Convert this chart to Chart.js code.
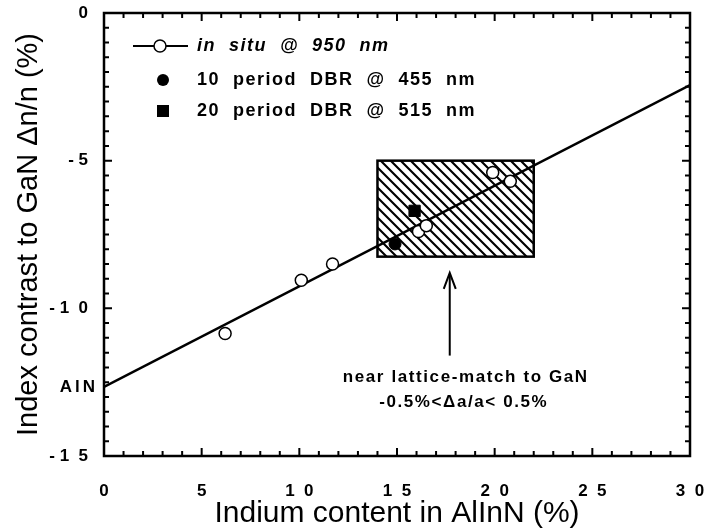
<!DOCTYPE html>
<html>
<head>
<meta charset="utf-8">
<script src="https://cdn.jsdelivr.net/npm/chart.js@4"></script>
<style>
  body { margin: 0; background: #fff; }
  #wrap { width: 705px; height: 529px; }
</style>
</head>
<body>
<div id="wrap"><canvas id="chart"></canvas></div>
<script>
// datos
var inSituX = [6.2, 10.1, 11.7, 16.1, 16.5, 19.9, 20.8];
var inSituY = [-10.85, -9.05, -8.5, -7.4, -7.2, -5.4, -5.7];
var dbr10X = [14.9];
var dbr10Y = [-7.82];
var dbr20X = [15.9];
var dbr20Y = [-6.7];
var fitX = [0, 30];
var fitY = [-12.66, -2.44];
var boxX = [14, 22];
var boxY = [-8.25, -5];
var arrowX = 17.7;
var arrowY = [-11.6, -8.8];
var aln = -12.66;
var xTicks = [0, 5, 10, 15, 20, 25, 30];
var xTickLabels = ['0', '5', '1  0', '1  5', '2  0', '2  5', '3  0'];
var yTicks = [0, -5, -10, -15];
var yTickLabels = ['0', '- 5', '- 1  0', '- 1  5'];
var legendLabels = ['in  situ  @  950  nm', '10  period  DBR  @  455  nm', '20  period  DBR  @  515  nm'];
var noteLines = ['near lattice-match to GaN', '-0.5%<\u0394a/a< 0.5%'];

function toPoints(xs, ys) {
  return xs.map(function (x, i) { return { x: x, y: ys[i] }; });
}

var FONT = '"Liberation Sans", Arial, Helvetica, sans-serif';
Chart.defaults.color = '#000';
Chart.defaults.font.family = FONT;

// patron de rayado para el recuadro
function hatchPattern(ctx) {
  var p = document.createElement('canvas');
  p.width = 10; p.height = 10;
  var c = p.getContext('2d');
  c.strokeStyle = '#000';
  c.lineWidth = 2.1;
  c.beginPath();
  c.moveTo(-2, -2); c.lineTo(12, 12);
  c.moveTo(-2, 8); c.lineTo(2, 12);
  c.moveTo(8, -2); c.lineTo(12, 2);
  c.stroke();
  return ctx.createPattern(p, 'repeat');
}

// recuadro, marcas, flecha, leyenda
var decor = {
  id: 'decor',
  beforeDatasetsDraw: function (chart) {
    var ctx = chart.ctx, xs = chart.scales.x, ys = chart.scales.y;
    var x0 = xs.getPixelForValue(boxX[0]), x1 = xs.getPixelForValue(boxX[1]);
    var y0 = ys.getPixelForValue(boxY[1]), y1 = ys.getPixelForValue(boxY[0]);
    ctx.save();
    ctx.fillStyle = hatchPattern(ctx);
    ctx.fillRect(x0, y0, x1 - x0, y1 - y0);
    ctx.lineWidth = 2.5;
    ctx.strokeStyle = '#000';
    ctx.strokeRect(x0, y0, x1 - x0, y1 - y0);
    ctx.restore();
  },
  afterDraw: function (chart) {
    var ctx = chart.ctx, a = chart.chartArea, xs = chart.scales.x, ys = chart.scales.y;
    ctx.save();
    ctx.strokeStyle = '#000';
    ctx.fillStyle = '#000';
    // marco
    ctx.lineWidth = 2.5;
    ctx.strokeRect(a.left, a.top, a.right - a.left, a.bottom - a.top);
    // marcas hacia dentro
    ctx.lineWidth = 2;
    ctx.beginPath();
    for (var v = 0; v <= 30; v++) {
      var px = xs.getPixelForValue(v);
      var len = v % 5 === 0 ? 8 : 5;
      ctx.moveTo(px, a.bottom); ctx.lineTo(px, a.bottom - len);
      ctx.moveTo(px, a.top); ctx.lineTo(px, a.top + len);
    }
    for (var w = 0; w <= 30; w++) {
      var py = ys.getPixelForValue(-w / 2);
      var l2 = w % 10 === 0 ? 8 : 5;
      ctx.moveTo(a.left, py); ctx.lineTo(a.left + l2, py);
      ctx.moveTo(a.right, py); ctx.lineTo(a.right - l2, py);
    }
    ctx.stroke();

    // etiqueta AlN en el eje y
    ctx.font = 'bold 17px ' + FONT;
    ctx.letterSpacing = '3px';
    ctx.textAlign = 'right';
    ctx.textBaseline = 'middle';
    ctx.fillText('AlN', a.left - 6, ys.getPixelForValue(aln));

    // flecha
    var ax = xs.getPixelForValue(arrowX);
    var ay0 = ys.getPixelForValue(arrowY[0]), ay1 = ys.getPixelForValue(arrowY[1]);
    ctx.lineWidth = 2;
    ctx.beginPath();
    ctx.moveTo(ax, ay0); ctx.lineTo(ax, ay1 + 2);
    ctx.stroke();
    ctx.beginPath();
    ctx.moveTo(ax - 6, ay1 + 16); ctx.lineTo(ax, ay1); ctx.lineTo(ax + 6, ay1 + 16);
    ctx.stroke();

    // texto de la nota
    ctx.font = 'bold 17px ' + FONT;
    ctx.letterSpacing = '1.6px';
    ctx.textAlign = 'center';
    ctx.fillText(noteLines[0], ax + 16, ay0 + 22);
    ctx.fillText(noteLines[1], ax + 14, ay0 + 47);

    // leyenda
    var lx = 163, ly = [46, 80, 111], tx = 197;
    ctx.lineWidth = 2;
    ctx.beginPath();
    ctx.moveTo(133, ly[0]); ctx.lineTo(188, ly[0]);
    ctx.stroke();
    ctx.beginPath();
    ctx.arc(160, ly[0], 6, 0, Math.PI * 2);
    ctx.fillStyle = '#fff';
    ctx.fill();
    ctx.lineWidth = 1.5;
    ctx.stroke();
    ctx.fillStyle = '#000';
    ctx.beginPath();
    ctx.arc(lx, ly[1], 6, 0, Math.PI * 2);
    ctx.fill();
    ctx.fillRect(lx - 6, ly[2] - 6, 12, 12);
    ctx.textAlign = 'left';
    ctx.letterSpacing = '1.5px';
    ctx.font = 'italic bold 18px ' + FONT;
    ctx.fillText(legendLabels[0], tx, ly[0]);
    ctx.font = 'bold 18px ' + FONT;
    ctx.fillText(legendLabels[1], tx, ly[1]);
    ctx.fillText(legendLabels[2], tx, ly[2]);
    ctx.restore();
  }
};

new Chart(document.getElementById('chart'), {
  type: 'scatter',
  data: {
    datasets: [
      {
        type: 'line',
        label: 'fit',
        data: toPoints(fitX, fitY),
        borderColor: '#000',
        borderWidth: 2.5,
        pointRadius: 0,
        order: 10
      },
      {
        label: 'in situ @ 950 nm',
        data: toPoints(inSituX, inSituY),
        pointStyle: 'circle',
        pointRadius: 6,
        backgroundColor: '#fff',
        borderColor: '#000',
        borderWidth: 1.5,
        order: 1
      },
      {
        label: '10 period DBR @ 455 nm',
        data: toPoints(dbr10X, dbr10Y),
        pointStyle: 'circle',
        pointRadius: 6,
        backgroundColor: '#000',
        borderColor: '#000',
        order: 1
      },
      {
        label: '20 period DBR @ 515 nm',
        data: toPoints(dbr20X, dbr20Y),
        pointStyle: 'rect',
        pointRadius: 8,
        backgroundColor: '#000',
        borderColor: '#000',
        order: 1
      }
    ]
  },
  options: {
    responsive: true,
    maintainAspectRatio: false,
    animation: false,
    layout: { padding: { top: 13, right: 15, left: 0, bottom: 0 } },
    plugins: { legend: { display: false }, tooltip: { enabled: false } },
    scales: {
      x: {
        type: 'linear',
        min: 0, max: 30,
        grid: { display: false, drawTicks: false },
        border: { display: false },
        afterBuildTicks: function (s) { s.ticks = xTicks.map(function (v) { return { value: v }; }); },
        afterFit: function (s) { s.height = 73; s.paddingLeft = 0; s.paddingRight = 0; },
        ticks: {
          padding: 25,
          maxRotation: 0,
          font: { size: 17, weight: 'bold' },
          callback: function (v) { return xTickLabels[xTicks.indexOf(v)]; }
        },
        title: {
          display: true,
          text: 'Indium content in AlInN (%)',
          font: { size: 30, lineHeight: 1 },
          padding: { top: 0, bottom: 0 }
        }
      },
      y: {
        type: 'linear',
        min: -15, max: 0,
        grid: { display: false, drawTicks: false },
        border: { display: false },
        afterBuildTicks: function (s) { s.ticks = yTicks.map(function (v) { return { value: v }; }); },
        afterFit: function (s) { s.width = 104; s.paddingTop = 0; s.paddingBottom = 0; },
        ticks: {
          padding: 16,
          font: { size: 17, weight: 'bold' },
          callback: function (v) { return yTickLabels[yTicks.indexOf(v)]; }
        },
        title: {
          display: true,
          text: 'Index contrast to GaN \u0394n/n (%)',
          font: { size: 29 },
          padding: { top: 12, bottom: 0 }
        }
      }
    }
  },
  plugins: [decor]
});
</script>
</body>
</html>
